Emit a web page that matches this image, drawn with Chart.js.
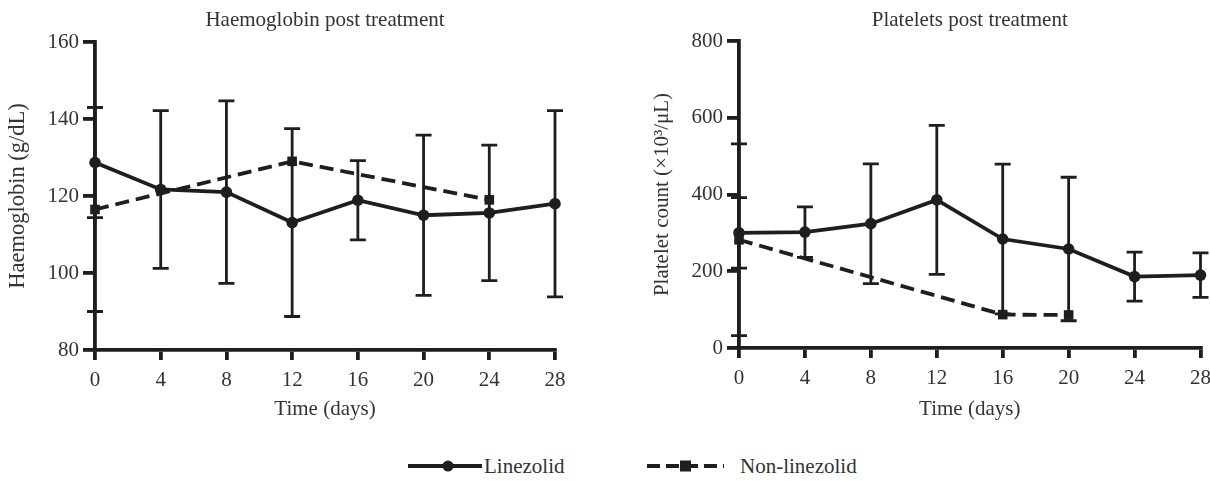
<!DOCTYPE html>
<html>
<head>
<meta charset="utf-8">
<script src="https://cdn.jsdelivr.net/npm/chart.js@4/dist/chart.umd.min.js"></script>
<style>
  html,body{margin:0;padding:0;background:#fff;width:1210px;height:481px;overflow:hidden;font-family:"Liberation Serif","DejaVu Serif",serif;color:#333;}
  #c1{position:absolute;left:0;top:0;}
  #c2{position:absolute;left:644px;top:0;}
  .leg{position:absolute;top:452px;height:28px;display:flex;align-items:center;font-size:21px;color:#333;}
  .leg svg{display:block;}
</style>
</head>
<body>
<canvas id="c1" width="600" height="440"></canvas>
<canvas id="c2" width="575" height="440"></canvas>
<div class="leg" style="left:406px;">
  <svg width="78" height="14"><line x1="2" y1="7" x2="76" y2="7" stroke="#1e1e1e" stroke-width="3.8"/><circle cx="42" cy="7" r="5.5" fill="#1e1e1e"/></svg><span>Linezolid</span>
</div>
<div class="leg" style="left:646px;">
  <svg width="80" height="14"><line x1="1" y1="7" x2="78" y2="7" stroke="#1e1e1e" stroke-width="3.8" stroke-dasharray="13,6"/><rect x="34" y="1.5" width="11" height="11" fill="#1e1e1e"/></svg><span style="margin-left:14px;">Non-linezolid</span>
</div>
<script>
// ---- data ----
const days = [0, 4, 8, 12, 16, 20, 24, 28];
const xTicks = [0, 4, 8, 12, 16, 20, 24, 28];

const hbLinezolid    = [128.7, 121.7, 121.0, 113.1, 118.9, 115.0, 115.6, 118.0];
const hbLinezolidErr = [14.3, 20.5, 23.7, 24.4, 10.3, 20.8, 17.6, 24.2];
const hbNonDays      = [0, 12, 24];
const hbNon          = [116.5, 129.0, 119.0];
const hbNonErr       = [26.5, null, null];
const hbTicks        = [80, 100, 120, 140, 160];

const plLinezolid    = [300, 302, 324, 386, 284, 258, 186, 190];
const plLinezolidErr = [92, 66, 156, 194, 195, 187, 64, 58];
const plNonDays      = [0, 16, 20];
const plNon          = [282, 87, 86];
const plNonErr       = [250, null, null];
const plTicks        = [0, 200, 400, 600, 800];

const INK = '#1e1e1e';
const TXT = '#333333';
const FONT = "'Liberation Serif', 'DejaVu Serif', serif";
const FS = 21;

function pts(xs, ys){ return xs.map((x,i)=>({x:x, y:ys[i]})); }

const errorBars = {
  id:'errorBars',
  beforeDatasetsDraw(chart){
    const ctx = chart.ctx, xs = chart.scales.x, ys = chart.scales.y;
    chart.data.datasets.forEach(ds=>{
      if(!ds.err) return;
      ds.data.forEach((p,i)=>{
        const e = ds.err[i];
        if(e == null) return;
        const x = xs.getPixelForValue(p.x);
        const yt = ys.getPixelForValue(p.y + e);
        const yb = ys.getPixelForValue(p.y - e);
        ctx.save();
        ctx.strokeStyle = INK;
        ctx.lineWidth = 2.8;
        ctx.beginPath();
        ctx.moveTo(x, yt); ctx.lineTo(x, yb);
        ctx.moveTo(x-8, yt); ctx.lineTo(x+8, yt);
        ctx.moveTo(x-8, yb); ctx.lineTo(x+8, yb);
        ctx.stroke();
        ctx.restore();
      });
    });
  }
};

function makeChart(id, cfg){
  return new Chart(document.getElementById(id), {
    type:'line',
    data:{
      datasets:[
        {label:'Linezolid', data:pts(days, cfg.lin), err:cfg.linErr,
         borderColor:INK, backgroundColor:INK, borderWidth:3.8,
         pointStyle:'circle', pointRadius:5.8, pointBackgroundColor:INK, pointBorderWidth:0,
         tension:0, clip:false},
        {label:'Non-linezolid', data:pts(cfg.nonDays, cfg.non), err:cfg.nonErr,
         borderColor:INK, backgroundColor:INK, borderWidth:3.8, borderDash:[14,7],
         pointStyle:'rect', pointRadius:6.8, pointBackgroundColor:INK, pointBorderWidth:0,
         tension:0, clip:false}
      ]
    },
    options:{
      responsive:false, animation:false,
      layout:{padding:{left:0, right:cfg.padRight, top:0, bottom:0}},
      plugins:{
        legend:{display:false},
        tooltip:{enabled:false},
        title:{display:true, text:cfg.title, fullSize:false, color:TXT,
               font:{family:FONT, size:FS, weight:'normal', lineHeight:1.2},
               padding:{top:cfg.titleTop, bottom:cfg.top - cfg.titleTop - FS*1.2}}
      },
      scales:{
        x:{type:'linear', min:0, max:28,
           afterBuildTicks(s){ s.ticks = xTicks.map(v=>({value:v})); },
           ticks:{color:TXT, font:{family:FONT, size:FS}, padding:8},
           border:{display:true, width:3.8, color:INK},
           grid:{display:true, drawOnChartArea:false, drawTicks:true, color:INK, lineWidth:3.8, tickLength:10},
           title:{display:true, text:'Time (days)', color:TXT, font:{family:FONT, size:FS, lineHeight:1.2}, padding:{top:0,bottom:18}},
           afterFit(s){ s.height = 440 - cfg.bottom; }
        },
        y:{type:'linear', min:cfg.ymin, max:cfg.ymax,
           afterBuildTicks(s){ s.ticks = cfg.yTicks.map(v=>({value:v})); },
           ticks:{color:TXT, font:{family:FONT, size:FS}, padding:4},
           border:{display:true, width:3.8, color:INK},
           grid:{display:true, drawOnChartArea:false, drawTicks:true, color:INK, lineWidth:3.8, tickLength:12},
           title:{display:true, text:cfg.yTitle, color:TXT, font:{family:FONT, size:cfg.yTitleSize, lineHeight:1.2}, padding:{top:cfg.yTitlePad,bottom:0}},
           afterFit(s){ s.width = 95; }
        }
      }
    },
    plugins:[errorBars]
  });
}

makeChart('c1', {title:'Haemoglobin post treatment', yTitle:'Haemoglobin (g/dL)',
  lin:hbLinezolid, linErr:hbLinezolidErr, nonDays:hbNonDays, non:hbNon, nonErr:hbNonErr,
  ymin:80, ymax:160, yTicks:hbTicks, padRight:45, top:42, bottom:350, titleTop:8,
  yTitleSize:22.5, yTitlePad:5});

makeChart('c2', {title:'Platelets post treatment', yTitle:'Platelet count (\u00d710\u00b3/\u03bcL)',
  lin:plLinezolid, linErr:plLinezolidErr, nonDays:plNonDays, non:plNon, nonErr:plNonErr,
  ymin:0, ymax:800, yTicks:plTicks, padRight:0, top:41, bottom:348, titleTop:8,
  yTitleSize:21, yTitlePad:6});
</script>
</body>
</html>
